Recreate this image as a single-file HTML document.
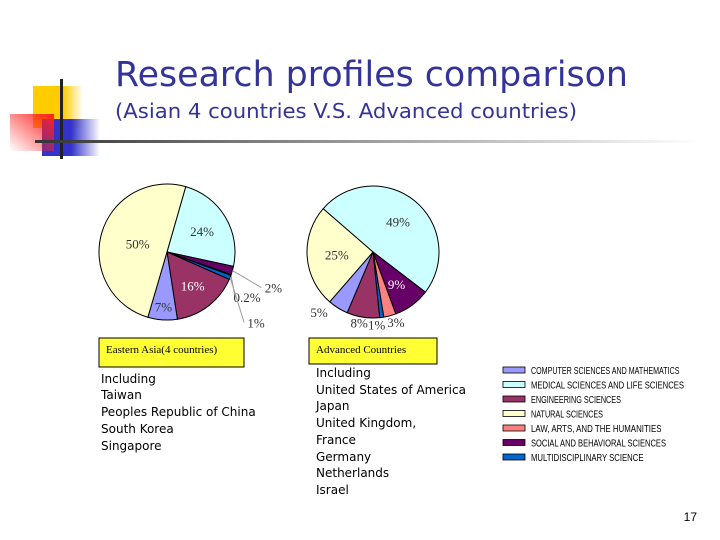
<!DOCTYPE html>
<html><head><meta charset="utf-8"><style>
body{margin:0;background:#fff;width:720px;height:540px;overflow:hidden}
svg{display:block}
</style></head><body>
<svg id="s" width="720" height="540" viewBox="0 0 720 540" xmlns="http://www.w3.org/2000/svg">
<defs>
<linearGradient id="gy" x1="0" x2="1"><stop offset="0" stop-color="#ffcc00"/><stop offset="0.6" stop-color="#ffcc00"/><stop offset="1" stop-color="#ffcc00" stop-opacity="0"/></linearGradient>
<linearGradient id="gb" x1="0" x2="1"><stop offset="0" stop-color="#3333cc"/><stop offset="0.5" stop-color="#3333cc"/><stop offset="1" stop-color="#3333cc" stop-opacity="0"/></linearGradient>
<linearGradient id="gr" x1="1" x2="0" y1="0" y2="1"><stop offset="0" stop-color="#ff2020"/><stop offset="1" stop-color="#ff2020" stop-opacity="0"/></linearGradient>
<linearGradient id="gl" x1="0" x2="1"><stop offset="0" stop-color="#333"/><stop offset="0.3" stop-color="#777"/><stop offset="1" stop-color="#fff"/></linearGradient>
</defs>
<g>
<rect x="33" y="86" width="50" height="42" fill="url(#gy)"/>
<rect x="42" y="119" width="58" height="37" fill="url(#gb)"/>
<rect x="10" y="114" width="44" height="37" fill="url(#gr)"/>
<rect x="60" y="79" width="3" height="80" fill="#222"/>
</g>
<rect x="35" y="140" width="665" height="3" fill="url(#gl)"/>
<text x="115" y="86" font-family="DejaVu Sans, sans-serif" font-size="35" fill="#333399" textLength="513" lengthAdjust="spacingAndGlyphs">Research profiles comparison</text>
<text x="115" y="118" font-family="DejaVu Sans, sans-serif" font-size="20" fill="#333399" textLength="462" lengthAdjust="spacingAndGlyphs">(Asian 4 countries V.S. Advanced countries)</text>
<g id="pies"></g>
<g>
<rect x="99" y="338" width="145" height="29" fill="#ffff33" stroke="#000"/>
<text x="106" y="353" font-family="Liberation Serif, serif" font-size="11">Eastern Asia(4 countries)</text>
</g>
<g>
<rect x="309" y="338" width="128" height="26" fill="#ffff33" stroke="#000"/>
<text x="316" y="353" font-family="Liberation Serif, serif" font-size="11">Advanced Countries</text>
</g>
<g font-family="DejaVu Sans, sans-serif" font-size="12" fill="#000">
<text x="101" y="383">Including</text><text x="101" y="399">Taiwan</text><text x="101" y="416">Peoples Republic of China</text><text x="101" y="433">South Korea</text><text x="101" y="450">Singapore</text>
</g>
<g font-family="DejaVu Sans, sans-serif" font-size="12" fill="#000">
<text x="316" y="377">Including</text><text x="316" y="394">United States of America</text><text x="316" y="410">Japan</text><text x="316" y="427">United Kingdom,</text><text x="316" y="444">France</text><text x="316" y="461">Germany</text><text x="316" y="477">Netherlands</text><text x="316" y="494">Israel</text>
</g>
<g id="legend"></g>
<text x="697" y="521" text-anchor="end" font-family="Liberation Sans, sans-serif" font-size="12">17</text>
</svg>
<script>
const categories=["MEDICAL SCIENCES AND LIFE SCIENCES","SOCIAL AND BEHAVIORAL SCIENCES","LAW, ARTS, AND THE HUMANITIES","MULTIDISCIPLINARY SCIENCE","ENGINEERING SCIENCES","COMPUTER SCIENCES AND MATHEMATICS","NATURAL SCIENCES"];
const colors=["#ccffff","#660066","#ff8080","#0066cc","#993366","#9999ff","#ffffcc"];
const asiaValues=[24,2,0.2,1,16,7,50];
const advancedValues=[49,9,3,1,8,5,25];
const asiaLabels=["24%","2%","0.2%","1%","16%","7%","50%"];
const advancedLabels=["49%","9%","3%","1%","8%","5%","25%"];
const legendOrder=[5,0,4,6,2,1,3];
const NS="http://www.w3.org/2000/svg";
const pies=document.getElementById('pies');
function pt(cx,cy,r,a){a=a*Math.PI/180;return [cx+r*Math.sin(a),cy-r*Math.cos(a)];}
// label placement: number = radial fraction; [dx,dy] = offset from slice edge point (outside labels)
function pie(vals,labels,cx,cy,r,start,labelPos,leaders,name){
  const g=document.createElementNS(NS,'g');
  
  
  pies.appendChild(g);
  const tot=vals.reduce((a,b)=>a+b,0);let a=start;
  vals.forEach((v,i)=>{
    const sw=v/tot*360,a2=a+sw;
    const p1=pt(cx,cy,r,a),p2=pt(cx,cy,r,a2);
    const p=document.createElementNS(NS,'path');
    p.setAttribute('d',`M${cx},${cy}L${p1[0]},${p1[1]}A${r},${r} 0 ${sw>180?1:0} 1 ${p2[0]},${p2[1]}Z`);
    p.setAttribute('fill',colors[i]);p.setAttribute('stroke','#000');p.setAttribute('stroke-width','1');
    
    
    g.appendChild(p);
    const lp=labelPos[i],mid=a+sw/2;
    let lx,ly;
    if(typeof lp==='number'){[lx,ly]=pt(cx,cy,r*lp,mid);}
    else{const e=pt(cx,cy,r,mid);lx=e[0]+lp[0];ly=e[1]+lp[1];
      if(leaders){const l=document.createElementNS(NS,'line');
        l.setAttribute('x1',e[0]);l.setAttribute('y1',e[1]);l.setAttribute('x2',lx-12);l.setAttribute('y2',ly);
        l.setAttribute('stroke','#999');l.setAttribute('stroke-width','1');
        
        
        g.appendChild(l);}}
    const t=document.createElementNS(NS,'text');
    t.setAttribute('x',lx);t.setAttribute('y',ly+5);t.setAttribute('text-anchor','middle');
    t.setAttribute('font-family','Liberation Serif, serif');t.setAttribute('font-size','13');
    t.setAttribute('fill',(i==4||i==1)&&typeof lp==='number'?'#fff':'#333');
    
    
    t.textContent=labels[i];g.appendChild(t);
    a=a2;
  });
}
pie(asiaValues,asiaLabels,167,252,68,16,[0.6,[41,17],[16,22],[26,45],0.62,0.8,0.45],true,'asia-pie');
pie(advancedValues,advancedLabels,373,252,66,311,[0.6,0.6,[6,6],[-5,7],[-4,5],[-19,4],0.55],false,'advanced-pie');
const lg=document.getElementById('legend');
legendOrder.forEach((ci,k)=>{
  const y=370+k*14.5;
  const r=document.createElementNS(NS,'rect');
  r.setAttribute('x',503);r.setAttribute('y',y-3);r.setAttribute('width',22);r.setAttribute('height',6);
  r.setAttribute('fill',colors[ci]);r.setAttribute('stroke','#000');r.setAttribute('stroke-width','0.8');
  
  
  lg.appendChild(r);
  const t=document.createElementNS(NS,'text');
  t.setAttribute('x',531);t.setAttribute('y',y+4);t.setAttribute('font-family','Liberation Sans Narrow, Liberation Sans, sans-serif');
  t.setAttribute('font-size','10');
  t.setAttribute('textLength',categories[ci].length*4.5);
  t.setAttribute('lengthAdjust','spacingAndGlyphs');
  
  
  t.textContent=categories[ci];lg.appendChild(t);
});
</script>
</body></html>
